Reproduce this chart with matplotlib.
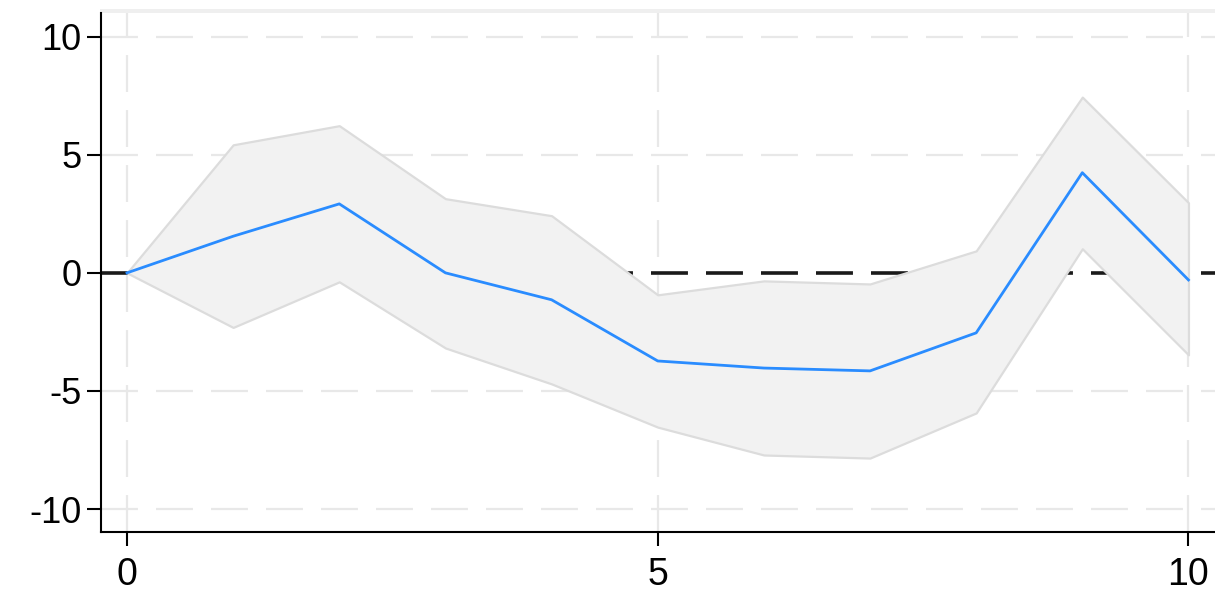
import matplotlib
matplotlib.use("Agg")
import matplotlib.pyplot as plt
from matplotlib.patches import Rectangle

plt.rcParams["font.family"] = ["Liberation Sans", "DejaVu Sans"]
plt.rcParams["lines.scale_dashes"] = False

# Impulse response with confidence band
steps = [0, 1, 2, 3, 4, 5, 6, 7, 8, 9, 10]
irf = [0.0, 1.55, 2.92, 0.0, -1.14, -3.73, -4.03, -4.15, -2.54, 4.24, -0.30]
upper = [0.0, 5.42, 6.23, 3.14, 2.42, -0.93, -0.34, -0.47, 0.93, 7.44, 2.97]
lower = [0.0, -2.31, -0.38, -3.18, -4.70, -6.53, -7.71, -7.84, -5.93, 1.02, -3.47]

x_ticks = [0, 5, 10]
y_ticks = [-10, -5, 0, 5, 10]

W, H, DPI = 1215, 600, 100
fig = plt.figure(figsize=(W / DPI, H / DPI), dpi=DPI)
fig.patch.set_facecolor("white")

# light strip at the top of the graph region
fig.add_artist(Rectangle((100 / W, 1 - 15 / H), 1 - 100 / W, 6 / H,
                         transform=fig.transFigure, facecolor="#efefef",
                         edgecolor="none", zorder=0))

ax = fig.add_axes([101 / W, 1 - 532 / H, 1 - 101 / W, (532 - 13) / H])
ax.set_xlim(-0.245, 10.25)
ax.set_ylim(-10.97, 11.0)

grid_kw = dict(color="#e8e8e8", linewidth=1.6, dashes=(26.6, 13), zorder=1)
for v in x_ticks:
    ax.axvline(v, **grid_kw)
for v in y_ticks:
    ax.axhline(v, **grid_kw)

# reference line at zero
ax.axhline(0, color="#1a1a1a", linewidth=2.6, dashes=(26.6, 13), zorder=2)

ax.fill_between(steps, lower, upper, facecolor="#f2f2f2", edgecolor="#dcdcdc",
                linewidth=1.6, zorder=3)
ax.plot(steps, irf, color="#2a8cff", linewidth=2.0, zorder=4)

ax.set_xticks(x_ticks)
ax.set_yticks(y_ticks)
ax.set_xticklabels([str(v) for v in x_ticks])
ax.set_yticklabels([str(v) for v in y_ticks])

for side in ("top", "right"):
    ax.spines[side].set_visible(False)
for side in ("left", "bottom"):
    ax.spines[side].set_linewidth(1.5)
    ax.spines[side].set_color("black")

ax.tick_params(axis="both", direction="out", length=10, width=1.5, colors="black")
ax.tick_params(axis="y", labelsize=26, pad=4)
ax.tick_params(axis="x", labelsize=27, pad=8)

fig.savefig("out.png", dpi=DPI)
